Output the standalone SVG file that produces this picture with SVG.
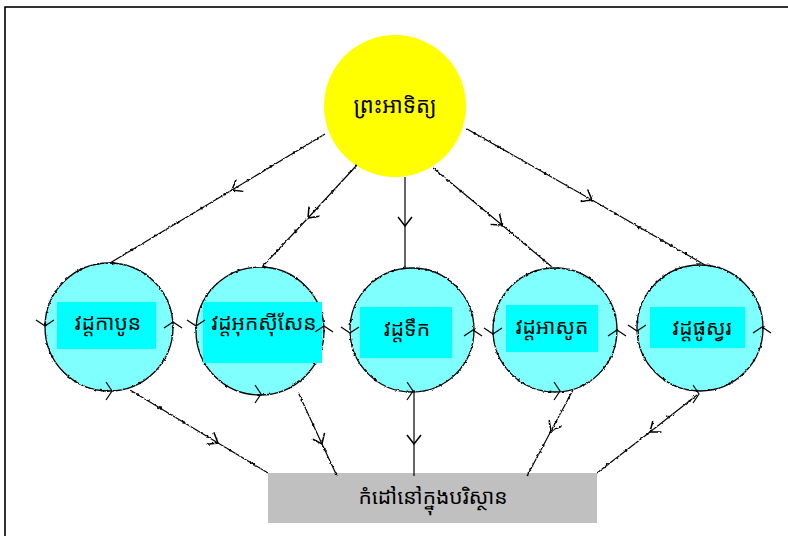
<svg xmlns="http://www.w3.org/2000/svg" width="788" height="536" viewBox="0 0 788 536">
  <style>
    .frame { fill: none; stroke: #000; stroke-width: 1.6; }
    .sun { fill: #ffff00; stroke: none; }
    .cycle { fill: #80ffff; stroke: #000; stroke-width: 1.3; }
    .cycle-dots { fill: none; stroke: #000; stroke-width: 2.4; stroke-linecap: round; stroke-dasharray: 0 34; }
    .label-box { fill: #00ffff; stroke: none; }
    .sink { fill: #c0c0c0; stroke: none; }
    .txt { font-family: "Noto Sans Khmer", "Khmer OS", "Noto Serif Khmer", "Khmer OS System", "Noto Sans", "DejaVu Sans", sans-serif; fill: #000; text-anchor: middle; dominant-baseline: central; }
    .t-sun { font-size: 22px; }
    .t-node { font-size: 21px; }
    .link { fill: none; stroke: #000; stroke-width: 1.2; marker-mid: url(#head); }
    .link-dots { fill: none; stroke: #000; stroke-width: 2.6; stroke-linecap: round; stroke-dasharray: 0 27; stroke-dashoffset: -9; }
    .turn { fill: none; stroke: #000; stroke-width: 1.2; }
  </style>
  <defs>
    <!-- slight hand-drawn wobble for lines and outlines -->
    <filter id="rough" filterUnits="userSpaceOnUse" x="0" y="0" width="788" height="536">
      <feTurbulence type="fractalNoise" baseFrequency="0.35" numOctaves="1" seed="4" result="n"/>
      <feDisplacementMap in="SourceGraphic" in2="n" scale="2.8" xChannelSelector="R" yChannelSelector="G"/>
    </filter>
    <!-- open arrowhead placed mid-way along a connector -->
    <marker id="head" markerUnits="userSpaceOnUse" viewBox="-12 -9 14 18" refX="0" refY="0" markerWidth="14" markerHeight="18" orient="auto">
      <path d="M-9,-7 L0,0 L-9,7" fill="none" stroke="#000" stroke-width="1.5"/>
    </marker>
    <!-- small chevron marking the direction of flow round a cycle -->
    <path id="chev" d="M-6,-9 L0,0 L-6,9" class="turn"/>
  </defs>

  <rect class="frame" x="5" y="7" width="800" height="560"/>

  <g id="sun">
    <circle class="sun" cx="395" cy="106" r="71"/>
    <text class="txt t-sun" x="395" y="104">ព្រះអាទិត្យ</text>
  </g>

  <g id="carbon-cycle">
    <circle class="cycle" cx="109" cy="327" r="64" filter="url(#rough)"/>
    <circle class="cycle-dots" cx="109" cy="327" r="64" filter="url(#rough)"/>
    <rect class="label-box" x="57" y="302" width="99" height="47"/>
    <text class="txt t-node" x="108" y="322">វដ្តកាបូន</text>
    <use href="#chev" transform="translate(45,326) rotate(90)"/>
    <use href="#chev" transform="translate(173,322) rotate(-90)"/>
    <use href="#chev" transform="translate(112,391)"/>
  </g>

  <g id="oxygen-cycle">
    <circle class="cycle" cx="260" cy="331" r="64" filter="url(#rough)"/>
    <circle class="cycle-dots" cx="260" cy="331" r="64" filter="url(#rough)"/>
    <rect class="label-box" x="203" y="302" width="119" height="61"/>
    <text class="txt t-node" x="264" y="322">វដ្តអុកស៊ីសែន</text>
    <use href="#chev" transform="translate(196,326) rotate(90)"/>
    <use href="#chev" transform="translate(324,326) rotate(-90)"/>
    <use href="#chev" transform="translate(261,394)"/>
  </g>

  <g id="water-cycle">
    <circle class="cycle" cx="412" cy="330" r="62" filter="url(#rough)"/>
    <circle class="cycle-dots" cx="412" cy="330" r="62" filter="url(#rough)"/>
    <rect class="label-box" x="360" y="307" width="92" height="51"/>
    <text class="txt t-node" x="407" y="328">វដ្តទឹក</text>
    <use href="#chev" transform="translate(350,333) rotate(90)"/>
    <use href="#chev" transform="translate(473,330) rotate(-90)"/>
    <use href="#chev" transform="translate(413,391)"/>
  </g>

  <g id="nitrogen-cycle">
    <circle class="cycle" cx="555" cy="330" r="62" filter="url(#rough)"/>
    <circle class="cycle-dots" cx="555" cy="330" r="62" filter="url(#rough)"/>
    <rect class="label-box" x="506" y="305" width="92" height="47"/>
    <text class="txt t-node" x="552" y="326">វដ្តអាសូត</text>
    <use href="#chev" transform="translate(493,334) rotate(90)"/>
    <use href="#chev" transform="translate(617,330) rotate(-90)"/>
    <use href="#chev" transform="translate(560,391)"/>
  </g>

  <g id="phosphorus-cycle">
    <circle class="cycle" cx="700" cy="328" r="63" filter="url(#rough)"/>
    <circle class="cycle-dots" cx="700" cy="328" r="63" filter="url(#rough)"/>
    <rect class="label-box" x="650" y="307" width="95" height="41"/>
    <text class="txt t-node" x="702" y="327">វដ្តផូស្វរ</text>
    <use href="#chev" transform="translate(637,331) rotate(90)"/>
    <use href="#chev" transform="translate(762,327) rotate(-90)"/>
    <use href="#chev" transform="translate(699,394)"/>
  </g>

  <g id="environment-heat">
    <rect class="sink" x="268" y="473" width="329" height="50"/>
    <text class="txt t-node" x="433" y="496">កំដៅនៅក្នុងបរិស្ថាន</text>
  </g>

  <g id="connectors">
    <g filter="url(#rough)">
      <!-- sun to cycles -->
      <path class="link" d="M325,134 L232,190 L110,263"/>
      <path class="link-dots" d="M325,134 L110,263"/>
      <path class="link" d="M357,165 L308,218 L262,267"/>
      <path class="link-dots" d="M357,165 L262,267"/>
      <path class="link" d="M433,168 L502,225 L552,267"/>
      <path class="link-dots" d="M433,168 L552,267"/>
      <path class="link" d="M467,129 L592,200 L705,265"/>
      <path class="link-dots" d="M467,129 L705,265"/>
      <!-- cycles to heat in the environment -->
      <path class="link" d="M130,390 L218,443 L268,473"/>
      <path class="link-dots" d="M130,390 L268,473"/>
      <path class="link" d="M298,392 L322,444 L337,476"/>
      <path class="link-dots" d="M298,392 L337,476"/>
      <path class="link" d="M573,390 L551,431 L527,476"/>
      <path class="link-dots" d="M573,390 L527,476"/>
      <path class="link" d="M697,395 L650,432 L597,473"/>
      <path class="link-dots" d="M697,395 L597,473"/>
    </g>
    <!-- straight vertical links through the water cycle -->
    <path class="link" d="M405,177 L405,226 L405,268"/>
    <path class="link" d="M414,390 L414,444 L414,476"/>
  </g>
</svg>
